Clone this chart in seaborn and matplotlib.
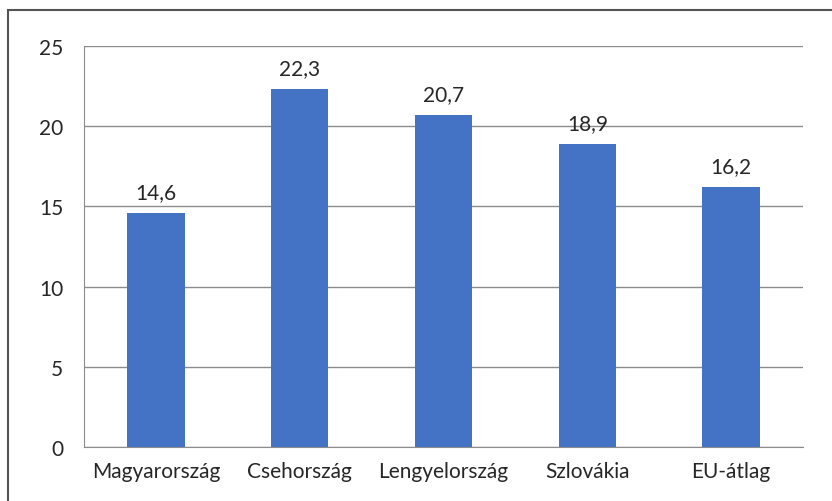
import numpy as np
import matplotlib
matplotlib.use('Agg')
import matplotlib.pyplot as plt
import pandas as pd
import seaborn as sns
from matplotlib.patches import Rectangle

# adatok
orszagok = ['Magyarország', 'Csehország', 'Lengyelország', 'Szlovákia', 'EU-átlag']
ertekek = [14.6, 22.3, 20.7, 18.9, 16.2]
y_ticks = [0, 5, 10, 15, 20, 25]

df = pd.DataFrame({'orszag': orszagok, 'ertek': ertekek})

sns.set_style('white')
plt.rcParams['font.family'] = ['Lato', 'DejaVu Sans']

fig = plt.figure(figsize=(8.32, 5.02), dpi=100)
ax = fig.add_axes([84/832, 1-448/502, (803-84)/832, (448-47)/502])

sns.barplot(data=df, x='orszag', y='ertek', color='#4472C4', width=0.4,
            saturation=1, linewidth=0, ax=ax)

# keret a diagram körül
fig.patches.append(Rectangle((8/832, -0.1), 1.2, 1-11/502+0.1,
                             transform=fig.transFigure, fill=False,
                             edgecolor='#555555', linewidth=1.5))

ax.set_ylim(0, 25)
ax.set_yticks(y_ticks)
ax.set_xlim(-0.5, len(orszagok)-0.5)
ax.set_xlabel('')
ax.set_ylabel('')

ax.yaxis.grid(True, color='#8c8c8c', linewidth=1)
ax.set_axisbelow(True)
for s in ['top', 'right']:
    ax.spines[s].set_visible(False)
ax.spines['left'].set_color('#8c8c8c')
ax.spines['bottom'].set_color('#8c8c8c')

# x tick vonalak a kategóriák között
ax.set_xticks(np.arange(len(orszagok)))
ax.set_xticklabels(orszagok, fontsize=15)
ax.tick_params(axis='x', length=0, pad=10)
ax.set_xticks(np.arange(-0.5, len(orszagok)), minor=True)
ax.tick_params(axis='x', which='minor', length=6, color='#8c8c8c', width=1)
ax.tick_params(axis='y', length=7, color='#8c8c8c', labelsize=15, pad=8)

# értékfeliratok
for i, v in enumerate(ertekek):
    ax.annotate(f'{v:.1f}'.replace('.', ','), xy=(i, v), xytext=(0, 8),
                textcoords='offset points', ha='center', va='bottom',
                fontsize=15)

plt.savefig('out.png', dpi=100)
